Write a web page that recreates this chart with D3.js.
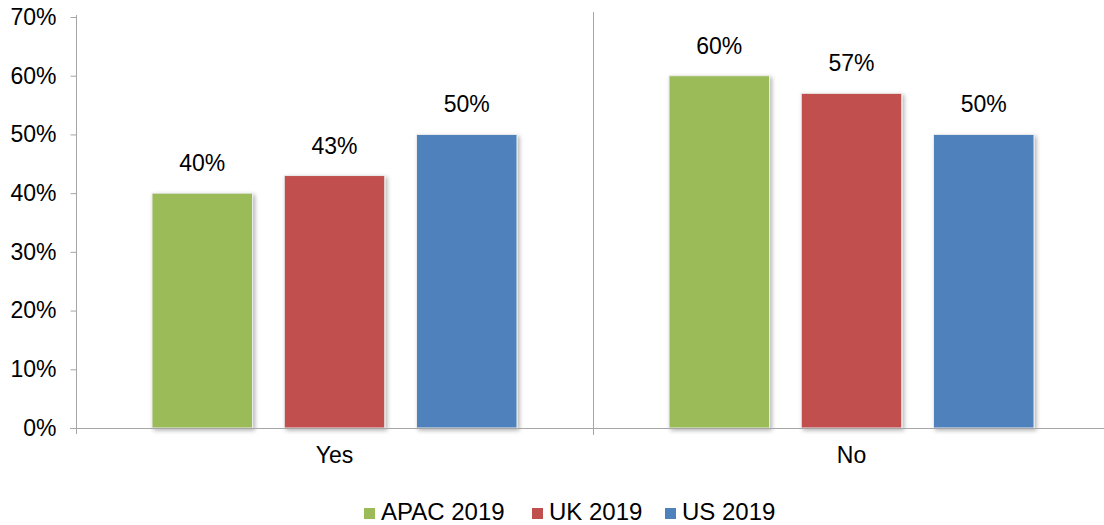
<!DOCTYPE html>
<html>
<head>
<meta charset="utf-8">
<script src="https://cdn.jsdelivr.net/npm/d3@7"></script>
<style>
  html, body { margin: 0; padding: 0; background: #fff; }
  svg { display: block; font-family: "Liberation Sans", Arial, sans-serif; }
</style>
</head>
<body>
<svg id="chart" width="1104" height="525"></svg>
<script>
// Survey answers by region
const categories = ["Yes", "No"];
const seriesNames = ["APAC 2019", "UK 2019", "US 2019"];
const seriesColors = ["#9bbb59", "#c0504d", "#4f81bd"];
const apac2019 = [40, 60];
const uk2019 = [43, 57];
const us2019 = [50, 50];
const yTicks = [0, 10, 20, 30, 40, 50, 60, 70];

const seriesValues = [apac2019, uk2019, us2019];

const svg = d3.select("#chart");
const axisColor = "#a6a6a6";
const fontSize = 23;

const y = d3.scaleLinear().domain([0, 70]).range([428, 17]);
const x0 = d3.scaleBand().domain(categories).range([76, 1110]);
const x1 = d3.scaleBand().domain(seriesNames)
  .range([76, x0.bandwidth() - 76])
  .paddingInner(0.24);

// Soft shadow under each bar
const defs = svg.append("defs");
const f = defs.append("filter").attr("id", "shadow")
  .attr("x", "-10%").attr("y", "-10%").attr("width", "130%").attr("height", "130%");
f.append("feDropShadow").attr("dx", 2).attr("dy", 2).attr("stdDeviation", 2)
  .attr("flood-color", "#000").attr("flood-opacity", 0.3);

// Category separator
svg.append("line")
  .attr("x1", x0("No") + 0.5).attr("x2", x0("No") + 0.5)
  .attr("y1", 12).attr("y2", 435)
  .attr("stroke", axisColor).attr("stroke-width", 1);

// Bars with value labels
categories.forEach((cat, ci) => {
  const g = svg.append("g").attr("transform", `translate(${x0(cat)},0)`);
  seriesNames.forEach((name, si) => {
    const v = seriesValues[si][ci];
    g.append("rect")
      .attr("x", x1(name))
      .attr("y", y(v))
      .attr("width", x1.bandwidth())
      .attr("height", y(0) - y(v))
      .attr("fill", seriesColors[si])
      .attr("stroke", "#ececec")
      .attr("stroke-width", 1)
      .attr("filter", "url(#shadow)");
    g.append("text")
      .attr("x", x1(name) + x1.bandwidth() / 2)
      .attr("y", y(v) - 30)
      .attr("text-anchor", "middle")
      .attr("dominant-baseline", "central")
      .attr("font-size", fontSize)
      .attr("fill", "#000")
      .text(v + "%");
  });
});

// Y axis
const yAxis = d3.axisLeft(y).tickValues(yTicks).tickSize(6).tickPadding(14)
  .tickFormat(d => d + "%");
const ya = svg.append("g").attr("transform", "translate(76.5,0)").call(yAxis);
ya.select(".domain").attr("stroke", axisColor).attr("d", "M0,15V434");
ya.selectAll(".tick line").attr("stroke", axisColor);
ya.selectAll(".tick text").attr("font-size", fontSize).attr("fill", "#000")
  .attr("font-family", "Liberation Sans, Arial, sans-serif");

// X axis
const xAxis = d3.axisBottom(x0).tickSize(0).tickPadding(18);
const xa = svg.append("g").attr("transform", "translate(0,428.5)").call(xAxis);
xa.select(".domain").attr("stroke", axisColor).attr("d", "M70,0H1104");
xa.selectAll(".tick text").attr("font-size", fontSize).attr("fill", "#000")
  .attr("font-family", "Liberation Sans, Arial, sans-serif");

// Legend
const legendX = [364, 532, 665];
const legend = svg.append("g");
seriesNames.forEach((name, i) => {
  legend.append("rect")
    .attr("x", legendX[i]).attr("y", 508)
    .attr("width", 11).attr("height", 11)
    .attr("fill", seriesColors[i]);
  legend.append("text")
    .attr("x", legendX[i] + 17).attr("y", 511)
    .attr("dominant-baseline", "central")
    .attr("font-size", 24).attr("fill", "#000")
    .text(name);
});
</script>
</body>
</html>
